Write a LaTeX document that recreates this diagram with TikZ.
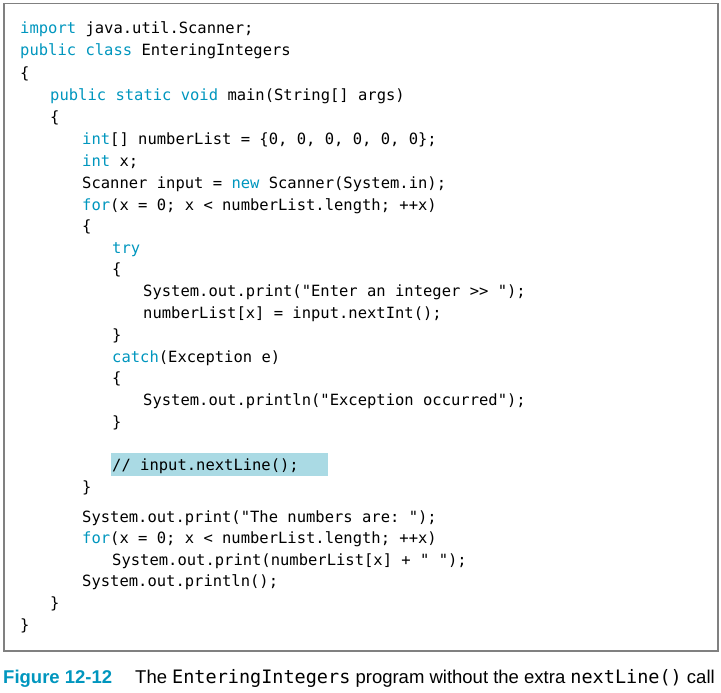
\documentclass[tikz,border=0pt]{standalone}
\usepackage{fontspec}
\setmainfont{Liberation Sans}
\setmonofont{DejaVu Sans Mono}
\definecolor{colorkw}{RGB}{0,150,190}
\definecolor{colorhl}{RGB}{170,218,228}
\definecolor{colorbox}{RGB}{128,128,128}
\newcommand{\kw}[1]{\textcolor{colorkw}{#1}}
\tikzset{
	codeline/.style={anchor=base west, inner sep=0pt, font=\ttfamily\fontsize{15.5}{18}\selectfont},
	captext/.style={anchor=base west, inner sep=0pt, font=\fontsize{18.5}{20}\selectfont}
}

\begin{document}
\begin{tikzpicture}[x=1pt, y=-1pt]
	\useasboundingbox (0,0) rectangle (721,693);
	\node[draw=colorbox, line width=1.5pt, minimum width=714pt, minimum height=647pt, anchor=north west, inner sep=0pt] (frame) at (3,3) {};
	% highlighted line
	\fill[colorhl] (111,453) rectangle (328,476);
	% code
	\node[codeline] (l1) at (20,34) {\kw{import} java.util.Scanner;};
	\node[codeline] (l2) at (20,56) {\kw{public class} EnteringIntegers};
	\node[codeline] (l3) at (20,78) {\{};
	\node[codeline] (l4) at (50,101) {\kw{public static void} main(String[] args)};
	\node[codeline] (l5) at (50,123) {\{};
	\node[codeline] (l6) at (82,145) {\kw{int}[] numberList = \{0, 0, 0, 0, 0, 0\};};
	\node[codeline] (l7) at (82,166) {\kw{int} x;};
	\node[codeline] (l8) at (82,188) {Scanner input = \kw{new} Scanner(System.in);};
	\node[codeline] (l9) at (82,210) {\kw{for}(x = 0; x < numberList.length; ++x)};
	\node[codeline] (l10) at (82,231) {\{};
	\node[codeline] (l11) at (112,253) {\kw{try}};
	\node[codeline] (l12) at (112,274) {\{};
	\node[codeline] (l13) at (143,296) {System.out.print("Enter an integer >> ");};
	\node[codeline] (l14) at (143,318) {numberList[x] = input.nextInt();};
	\node[codeline] (l15) at (112,340) {\}};
	\node[codeline] (l16) at (112,362) {\kw{catch}(Exception e)};
	\node[codeline] (l17) at (112,383) {\{};
	\node[codeline] (l18) at (143,405) {System.out.println("Exception occurred");};
	\node[codeline] (l19) at (112,427) {\}};
	\node[codeline] (l20) at (112,470) {// input.nextLine();};
	\node[codeline] (l21) at (82,492) {\}};
	\node[codeline] (l22) at (82,522) {System.out.print("The numbers are: ");};
	\node[codeline] (l23) at (82,543) {\kw{for}(x = 0; x < numberList.length; ++x)};
	\node[codeline] (l24) at (112,565) {System.out.print(numberList[x] + " ");};
	\node[codeline] (l25) at (82,586) {System.out.println();};
	\node[codeline] (l26) at (50,608) {\}};
	\node[codeline] (l27) at (20,630) {\}};
	% caption
	\node[captext, text=colorkw, font=\bfseries\fontsize{18.5}{20}\selectfont] (fig) at (3,683) {Figure 12-12};
	\node[captext] (cap) at (135,683) {The \texttt{EnteringIntegers} program without the extra \texttt{nextLine()} call};
\end{tikzpicture}
\end{document}
